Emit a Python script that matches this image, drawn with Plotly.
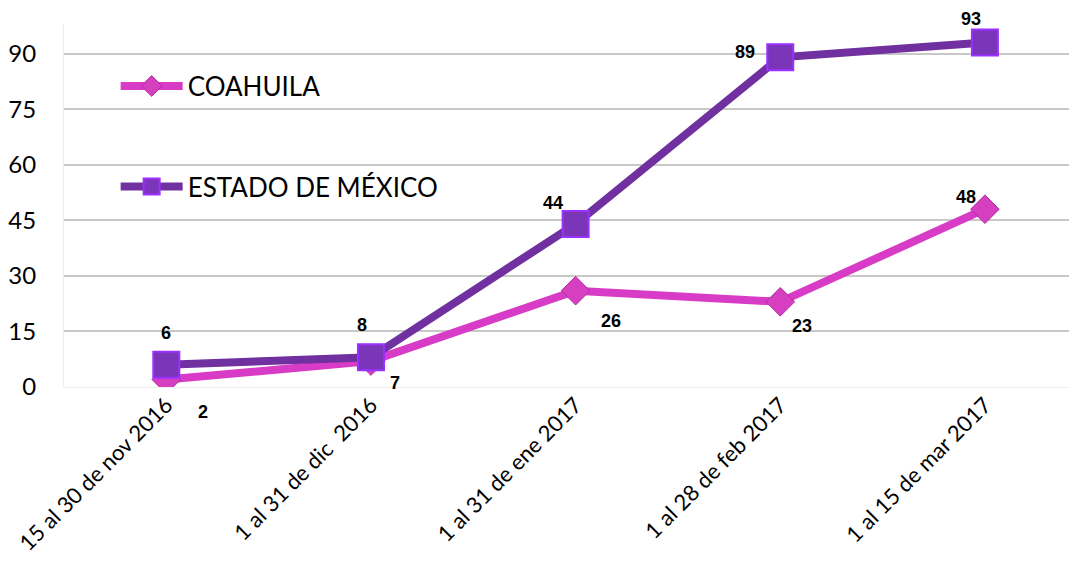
import plotly.graph_objects as go

categories = ["15 al 30 de nov 2016", "1 al 31 de dic  2016", "1 al 31 de ene 2017",
              "1 al 28 de feb 2017", "1 al 15 de mar 2017"]
coahuila = [2, 7, 26, 23, 48]
edomex = [6, 8, 44, 89, 93]
y_ticks = [0, 15, 30, 45, 60, 75, 90]

# label offsets in pixels (style only)
coahuila_label_shift = [(37, -32), (24, -22), (35, -30), (22, -24), (-19, 12)]
edomex_label_shift = [(0, 32), (-9, 32), (-23, 21), (-35, 5), (-14, 24)]

pink = "#D83CC6"
purple = "#7030A0"

fig = go.Figure()
fig.add_trace(go.Scatter(
    x=categories, y=coahuila, name="COAHUILA", mode="lines+markers",
    line=dict(color=pink, width=8),
    marker=dict(symbol="diamond", size=22, color="#D640C0", line=dict(color="#B02A9E", width=1)),
    legend="legend",
))
fig.add_trace(go.Scatter(
    x=categories, y=edomex, name="ESTADO DE MÉXICO", mode="lines+markers",
    line=dict(color=purple, width=8),
    marker=dict(symbol="square", size=26, color="#7B35B8", line=dict(color="#9B30FF", width=2)),
    legend="legend2",
))

label_font = dict(family="Liberation Sans", size=18, color="#000000", weight="bold")
for series, shifts in ((coahuila, coahuila_label_shift), (edomex, edomex_label_shift)):
    for cat, val, (dx, dy) in zip(categories, series, shifts):
        fig.add_annotation(x=cat, y=val, text=str(val), showarrow=False,
                           xshift=dx, yshift=dy, font=label_font)

legend_common = dict(
    font=dict(family="Lato, Open Sans, sans-serif", size=26, color="#000000"),
    bgcolor="rgba(0,0,0,0)", itemwidth=62, xanchor="left", yanchor="middle",
    xref="paper", yref="paper", tracegroupgap=0,
)
fig.update_layout(
    width=1077, height=570,
    margin=dict(l=56, r=8, t=16, b=191),
    paper_bgcolor="white", plot_bgcolor="white",
    showlegend=True,
    legend=dict(x=0.051, y=0.829, **legend_common),
    legend2=dict(x=0.051, y=0.552, **legend_common),
    xaxis=dict(
        type="category", range=[-0.5, 4.45], automargin=False,
        tickangle=-45, showgrid=False, showline=False, ticks="",
        tickfont=dict(family="Lato, Open Sans, sans-serif", size=22, color="#000000"),
    ),
    yaxis=dict(
        range=[0, 98], tickvals=y_ticks, ticktext=[str(v) for v in y_ticks],
        automargin=False,
        showgrid=True, gridcolor="#C8C8C8", gridwidth=1.5,
        zeroline=True, zerolinecolor="#EEEEEE", zerolinewidth=1,
        showline=True, linecolor="#EEEEEE", linewidth=1, ticks="",
        tickfont=dict(family="Lato, Open Sans, sans-serif", size=24, color="#000000"),
        ticklabelstandoff=22,
    ),
)

fig.write_html("out.html")
